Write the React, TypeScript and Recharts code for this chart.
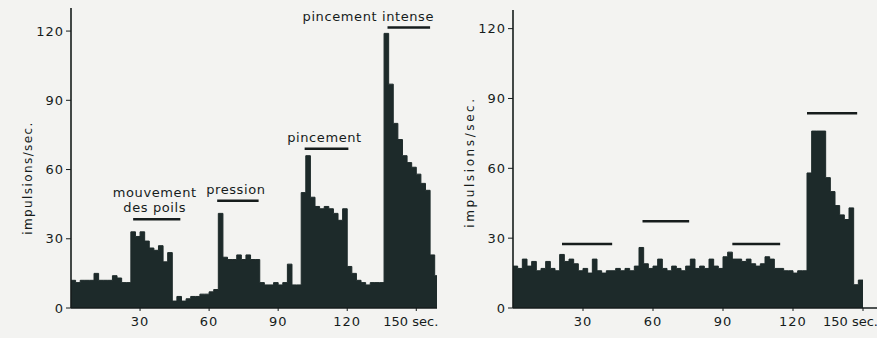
import React from 'react';
import { AreaChart, Area, XAxis, YAxis, ReferenceLine } from 'recharts';

// histogram bins, 2 s wide, starting at t = 0
const BIN = 2;

// left panel: normal unit, four stimuli
const leftRates = [
  12, 11, 12, 12, 12, 15, 12, 12, 12, 14,
  13, 11, 11, 33, 31, 33, 29, 26, 25, 27,
  20, 24, 3, 5, 3, 4, 5, 5, 6, 6,
  7, 8, 41, 22, 21, 21, 23, 21, 23, 21,
  21, 11, 10, 10, 11, 10, 11, 19, 10, 10,
  50, 66, 48, 44, 43, 44, 43, 41, 38, 43,
  18, 15, 12, 11, 10, 11, 11, 11, 119, 97,
  80, 73, 66, 63, 61, 58, 54, 51, 23, 14,
];

// right panel: only the strong pinch answers
const rightRates = [
  18, 17, 21, 18, 20, 16, 17, 20, 17, 16,
  23, 20, 21, 19, 16, 17, 15, 21, 16, 15,
  16, 16, 17, 16, 17, 16, 18, 26, 19, 17,
  18, 21, 17, 16, 18, 17, 16, 18, 21, 17,
  18, 17, 21, 18, 17, 22, 24, 21, 21, 20,
  21, 19, 18, 19, 22, 21, 17, 17, 16, 16,
  15, 16, 16, 58, 76, 76, 76, 56, 50, 44,
  40, 38, 43, 10, 12,
];

const xTicks = [30, 60, 90, 120, 150];
const yTicks = [0, 30, 60, 90, 120];
const yLabel = 'impulsions/sec.';

const leftStimuli = [
  { label: ['mouvement', 'des poils'], start: 27, end: 47.5, level: 38.5 },
  { label: ['pression'], start: 63.5, end: 81.5, level: 46.5 },
  { label: ['pincement'], start: 101.5, end: 120.5, level: 69 },
  { label: ['pincement intense'], start: 137.5, end: 156, level: 121.5 },
];
const leftLabelAnchor = ['middle', 'middle', 'middle', 'end'];

const rightStimuli = [
  { label: [], start: 21, end: 42.5, level: 27.5 },
  { label: [], start: 55.5, end: 75.5, level: 37.3 },
  { label: [], start: 94, end: 114.5, level: 27.5 },
  { label: [], start: 126, end: 147.5, level: 83.7 },
];

const INK = '#161c1c';
const FILL = '#1d2a2a';
const FONT = '"DejaVu Sans", Arial, sans-serif';

const toSeries = (rates: number[]) => {
  const pts = rates.map((v, i) => ({ t: i * BIN, v }));
  pts.push({ t: rates.length * BIN, v: rates[rates.length - 1] });
  return pts;
};

const XTick = (props: any) => {
  const { x, y, payload, secOffset } = props;
  const last = payload.value === 150;
  return (
    <text
      x={last ? x + secOffset : x}
      y={y}
      dy={13}
      textAnchor={last ? 'start' : 'middle'}
      fontSize={13}
      fontFamily={FONT}
      fill={INK}
      letterSpacing={last ? 0 : 1}
    >
      {last ? '150 sec.' : payload.value}
    </text>
  );
};

const StimulusLabel = (props: any) => {
  const { viewBox, lines, anchor } = props;
  if (!viewBox || !lines.length) return null;
  const x = anchor === 'end' ? viewBox.x + viewBox.width + 4 : viewBox.x + viewBox.width / 2 - 2;
  const base = viewBox.y - 7;
  return (
    <text textAnchor={anchor} fontSize={13} fontFamily={FONT} fill={INK} letterSpacing={0.6}>
      {lines.map((l: string, i: number) => (
        <tspan key={l} x={x} y={base - (lines.length - 1 - i) * 15}>
          {l}
        </tspan>
      ))}
    </text>
  );
};

interface PanelProps {
  width: number;
  rates: number[];
  stimuli: { label: string[]; start: number; end: number; level: number }[];
  anchors: string[];
  xMax: number;
  yMax: number;
  top: number;
  right: number;
  yAxisWidth: number;
  secOffset: number;
  labelX: number;
  labelY: number;
  labelSpacing: number;
}

const Panel: React.FC<PanelProps> = (p) => {
  const data = toSeries(p.rates);
  return (
    <AreaChart
      width={p.width}
      height={338}
      data={data}
      margin={{ top: p.top, right: p.right, bottom: 0, left: 0 }}
    >
      <XAxis
        dataKey="t"
        type="number"
        domain={[0, p.xMax]}
        ticks={xTicks}
        allowDataOverflow
        height={30}
        axisLine={{ stroke: INK, strokeWidth: 1.6 }}
        tickLine={{ stroke: INK }}
        tickSize={3}
        tick={(tp: any) => <XTick {...tp} secOffset={p.secOffset} />}
      />
      <YAxis
        type="number"
        domain={[0, p.yMax]}
        ticks={yTicks}
        allowDataOverflow
        width={p.yAxisWidth}
        axisLine={{ stroke: INK, strokeWidth: 1.6 }}
        tickLine={{ stroke: INK }}
        tickSize={5}
        tick={{ fontSize: 13, fill: INK, fontFamily: FONT, letterSpacing: 1 }}
        label={(lp: any) => {
          const vb = lp.viewBox;
          const cx = vb.x + p.labelX;
          const cy = vb.y + p.labelY;
          return (
            <text
              x={cx}
              y={cy}
              transform={`rotate(-90, ${cx}, ${cy})`}
              textAnchor="middle"
              dominantBaseline="middle"
              fontSize={12}
              fontFamily={FONT}
              fill={INK}
              letterSpacing={p.labelSpacing}
            >
              {yLabel}
            </text>
          );
        }}
      />
      <Area
        type="stepAfter"
        dataKey="v"
        stroke={FILL}
        strokeWidth={1}
        fill={FILL}
        fillOpacity={1}
        isAnimationActive={false}
        dot={false}
        activeDot={false}
      />
      {p.stimuli.map((s, i) => (
        <ReferenceLine
          key={i}
          segment={[
            { x: s.start, y: s.level },
            { x: s.end, y: s.level },
          ]}
          stroke={INK}
          strokeWidth={2.5}
          ifOverflow="visible"
          label={(lp: any) => (
            <StimulusLabel viewBox={lp.viewBox} lines={s.label} anchor={p.anchors[i] || 'middle'} />
          )}
        />
      ))}
    </AreaChart>
  );
};

export default function App() {
  return (
    <div
      style={{
        position: 'fixed',
        left: 0,
        top: 0,
        width: 877,
        height: 338,
        background: '#f3f3f1',
        overflow: 'hidden',
      }}
    >
      <div style={{ position: 'absolute', left: 0, top: 0 }}>
        <Panel
          width={450}
          rates={leftRates}
          stimuli={leftStimuli}
          anchors={leftLabelAnchor}
          xMax={159}
          yMax={130}
          top={8}
          right={13}
          yAxisWidth={71}
          secOffset={-33}
          labelX={28}
          labelY={170}
          labelSpacing={1.4}
        />
      </div>
      <div style={{ position: 'absolute', left: 440, top: 0 }}>
        <Panel
          width={437}
          rates={rightRates}
          stimuli={rightStimuli}
          anchors={[]}
          xMax={156}
          yMax={128}
          top={10}
          right={0}
          yAxisWidth={73}
          secOffset={-40}
          labelX={30}
          labelY={152}
          labelSpacing={2.6}
        />
      </div>
    </div>
  );
}
